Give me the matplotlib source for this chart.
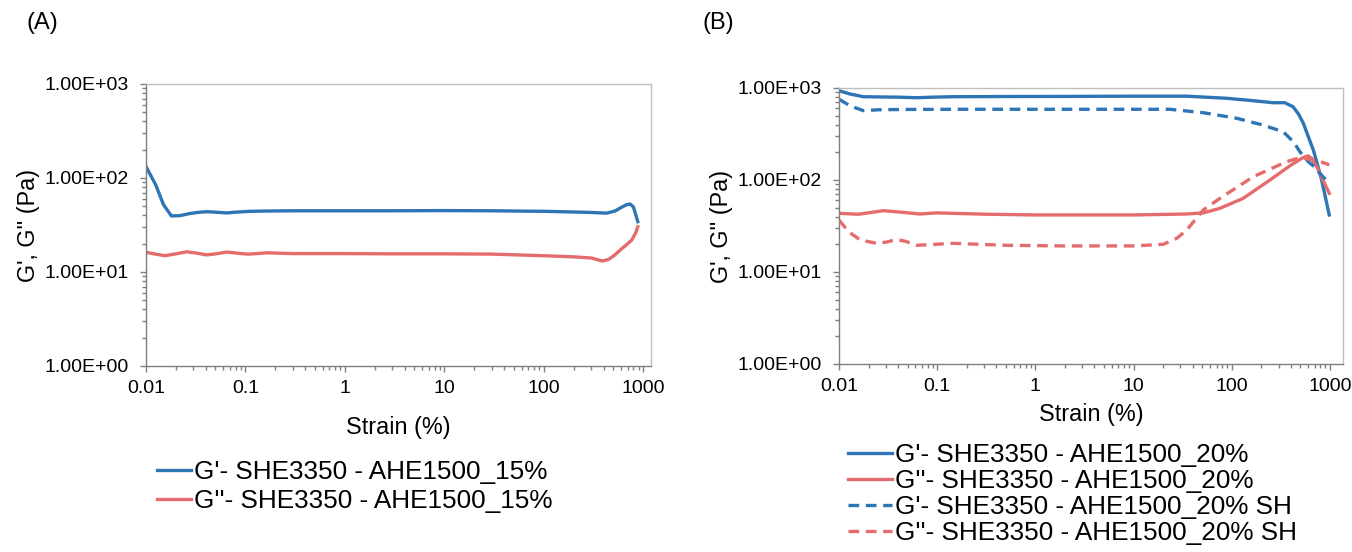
"""
Amplitude sweep of SHE3350 - AHE1500 gels: G' and G'' vs strain,
(A) 15 % gel, (B) 20 % gel before and after self-healing (SH).
"""

import matplotlib
matplotlib.use("Agg")
import matplotlib.pyplot as plt
from matplotlib.ticker import LogLocator, FixedLocator, NullFormatter, FuncFormatter

plt.rcParams["font.family"] = ["Liberation Sans", "DejaVu Sans"]

BLUE = "#2e75b6"
RED  = "#e46c6c"
AXIS = "#7f7f7f"

# ---- panel A : 15 % ----
strain_a    = [0.01, 0.0125, 0.015, 0.018, 0.022, 0.028, 0.035, 0.041, 0.05, 0.065, 0.08,
               0.11, 0.16, 0.3, 1, 3, 10, 30, 100, 200, 300, 430, 520, 600, 680, 742, 800, 884]
g1_a        = [132, 85, 52, 39.5, 39.8, 42, 43.3, 43.8, 43.3, 42.5, 43.3,
               44.2, 44.5, 44.8, 44.8, 44.8, 45, 44.8, 44.2, 43.5, 43, 42.3, 44.5, 48.5, 52, 52.9, 49, 34.3]
strain_a2   = [0.01, 0.0125, 0.0155, 0.02, 0.0257, 0.032, 0.0408, 0.05, 0.065, 0.085, 0.107,
               0.13, 0.164, 0.3, 1, 3, 10, 30, 100, 200, 300, 389, 450, 520, 587, 680, 769, 840, 884]
g2_a        = [16.2, 15.5, 14.9, 15.6, 16.4, 15.9, 15.2, 15.6, 16.3, 15.8, 15.5,
               15.7, 16.0, 15.7, 15.7, 15.6, 15.6, 15.5, 14.9, 14.5, 14.1, 13.1, 13.6, 15.2, 17.1, 19.5, 21.9, 26, 30.3]

# ---- panel B : 20 % and 20 % SH ----
strain_b1   = [0.01, 0.013, 0.0177, 0.025, 0.04, 0.062, 0.09, 0.146, 0.5, 2, 10, 34.7,
               89, 150, 265, 347, 421, 480, 537, 600, 678, 750, 824, 900, 985]
g1_b        = [934, 860, 804, 800, 795, 784, 795, 804, 808, 810, 815, 815,
               773, 735, 692, 692, 626, 520, 413, 300, 212, 145, 100, 65, 41.7]
strain_b2   = [0.01, 0.0157, 0.0283, 0.045, 0.0668, 0.099, 0.3, 1, 10, 34.7, 51.3,
               75.9, 131, 245, 400, 537, 600, 650, 734, 850, 985]
g2_b        = [43.5, 42.4, 46.4, 44.5, 42.7, 43.9, 42.5, 41.7, 41.7, 42.7, 43.9,
               49.2, 63.2, 100, 145, 176, 183, 172, 140, 100, 71.6]
strain_b3   = [0.01, 0.013, 0.0177, 0.025, 0.05, 0.2, 1, 10, 23.5, 51.3, 112,
               200, 334, 424, 500, 603, 700, 791, 900, 985]
g1_sh_b     = [754, 640, 567, 580, 585, 587, 587, 587, 587, 539, 469,
               400, 335, 261, 200, 158, 138, 118, 102, 92]
strain_b4   = [0.01, 0.0125, 0.0164, 0.0242, 0.031, 0.0387, 0.048, 0.062, 0.146, 0.5, 2,
               10, 20.1, 27.5, 34.7, 51.3, 75.9, 166, 362, 495, 678, 850, 985]
g2_sh_b     = [36.7, 27.5, 22.3, 20.5, 21.2, 22.6, 21.5, 19.5, 20.5, 19.5, 19.2,
               19.2, 20.0, 23.2, 28.5, 47.2, 63.2, 108.7, 158, 175, 165, 155, 146]

x_ticks = [0.01, 0.1, 1, 10, 100, 1000]
x_tick_labels = ["0.01", "0.1", "1", "10", "100", "1000"]
y_ticks = [1, 10, 100, 1000]


def style_axes(ax, xmax, xlabelpad):
    ax.set_xscale("log")
    ax.set_yscale("log")
    ax.set_xlim(0.01, xmax)
    ax.set_ylim(1, 1000)
    ax.xaxis.set_major_locator(FixedLocator(x_ticks))
    ax.set_xticklabels(x_tick_labels)
    ax.xaxis.set_minor_locator(LogLocator(base=10, subs=range(2, 10), numticks=20))
    ax.xaxis.set_minor_formatter(NullFormatter())
    ax.yaxis.set_major_locator(FixedLocator(y_ticks))
    ax.yaxis.set_major_formatter(FuncFormatter(lambda v, p: f"{v:.2E}"))
    ax.yaxis.set_minor_locator(LogLocator(base=10, subs=range(2, 10), numticks=20))
    ax.yaxis.set_minor_formatter(NullFormatter())
    for s in ax.spines.values():
        s.set_color("#bfbfbf")
        s.set_linewidth(1.0)
    ax.spines["left"].set_color(AXIS)
    ax.spines["bottom"].set_color(AXIS)
    ax.tick_params(which="major", length=4.5, width=1, color=AXIS, labelsize=14,
                   direction="out")
    ax.tick_params(which="minor", length=3, width=1, color=AXIS, direction="out")
    ax.tick_params(axis="x", pad=5.5)
    ax.tick_params(axis="y", pad=8)
    ax.set_xlabel("Strain (%)", fontsize=16.8, labelpad=xlabelpad)
    ax.set_ylabel("G', G'' (Pa)", fontsize=16.8, labelpad=3)


fig = plt.figure(figsize=(13.52, 5.52), dpi=100)
ax_a = fig.add_axes([146 / 1352, 1 - 366 / 552, 505 / 1352, 282 / 552])
ax_b = fig.add_axes([839 / 1352, 1 - 364 / 552, 504 / 1352, 276 / 552])

lw = 2.4
ax_a.plot(strain_a, g1_a, color=BLUE, lw=lw, label="G'- SHE3350 - AHE1500_15%")
ax_a.plot(strain_a2, g2_a, color=RED, lw=lw, label="G''- SHE3350 - AHE1500_15%")
style_axes(ax_a, 1200, 14)

ax_b.plot(strain_b1, g1_b, color=BLUE, lw=lw, label="G'- SHE3350 - AHE1500_20%")
ax_b.plot(strain_b2, g2_b, color=RED, lw=lw, label="G''- SHE3350 - AHE1500_20%")
ax_b.plot(strain_b3, g1_sh_b, color=BLUE, lw=lw, ls=(0, (3.2, 2)),
          label="G'- SHE3350 - AHE1500_20% SH")
ax_b.plot(strain_b4, g2_sh_b, color=RED, lw=lw, ls=(0, (3.2, 2)),
          label="G''- SHE3350 - AHE1500_20% SH")
style_axes(ax_b, 1360, 6)

leg_kw = dict(frameon=False, fontsize=18.8, handletextpad=0.1,
              borderaxespad=0, borderpad=0, loc="upper left")
fig.legend(handles=ax_a.get_lines(), bbox_to_anchor=(157 / 1352, 1 - 460 / 552),
           labelspacing=0.21, handlelength=1.3, **leg_kw)
fig.legend(handles=ax_b.get_lines(), bbox_to_anchor=(848 / 1352, 1 - 443 / 552),
           labelspacing=0.08, handlelength=1.7, **leg_kw)

fig.text(26 / 1352, 1 - 23 / 552, "(A)", fontsize=17, va="center")
fig.text(703 / 1352, 1 - 23 / 552, "(B)", fontsize=17, va="center")

plt.savefig("out.png", dpi=100, facecolor="white")
plt.close()
